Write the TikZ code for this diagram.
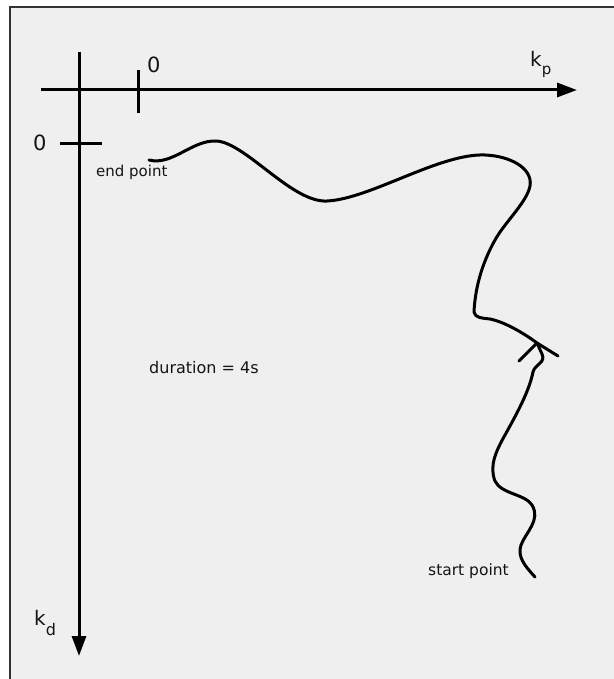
\documentclass[tikz,border=0pt]{standalone}
\usepackage{fontspec}
\setmainfont{DejaVu Sans}
\usetikzlibrary{arrows.meta}
\definecolor{bggray}{HTML}{EFEFEF}
\definecolor{framegray}{HTML}{333333}
\definecolor{txt}{HTML}{141414}
\tikzset{
  axis/.style={line width=3pt, black, -{Triangle[length=20pt,width=14pt]}},
  tick/.style={line width=3pt, black},
  traj/.style={line width=3pt, black, line cap=round, line join=round},
  lbl/.style={inner sep=0pt, text=txt, anchor=base west},
}
\begin{document}
\begin{tikzpicture}[x=1pt,y=-1pt]
\useasboundingbox (0,0) rectangle (613,679);
\fill[white] (0,0) rectangle (613,679);
\filldraw[fill=bggray, draw=framegray, line width=2.8pt] (10,7) rectangle (630,700);
% axes
\coordinate (hstart) at (41,90);
\coordinate (hend) at (577,90);
\coordinate (vstart) at (79,52);
\coordinate (vend) at (79,656);
\draw[axis] (hstart) -- (hend);
\draw[axis] (vstart) -- (vend);
% ticks
\coordinate (t1a) at (138,70);
\coordinate (t1b) at (138,113);
\coordinate (t2a) at (60,144);
\coordinate (t2b) at (102,144);
\draw[tick] (t1a) -- (t1b);
\draw[tick] (t2a) -- (t2b);
% labels
\node[lbl, font=\fontsize{21}{21}\selectfont] (zeroTop) at (147,73) {0};
\node[lbl, font=\fontsize{21}{21}\selectfont] (zeroLeft) at (33,151) {0};
\node[lbl, font=\fontsize{20}{20}\selectfont] (kp) at (530,67) {k\raisebox{-8pt}{\fontsize{15}{15}\selectfont p}};
\node[lbl, font=\fontsize{20}{20}\selectfont] (kd) at (34,625) {k\raisebox{-10pt}{\fontsize{16}{16}\selectfont d}};
\node[lbl, font=\fontsize{15}{15}\selectfont] (endpt) at (96,176.5) {end point};
\node[lbl, font=\fontsize{16}{16}\selectfont] (dur) at (149,373) {duration = 4s};
\node[lbl, font=\fontsize{15.5}{15.5}\selectfont] (startpt) at (428,575) {start point};
% trajectory
\coordinate (endP) at (149,160);
\coordinate (startP) at (535,577);
\coordinate (tip) at (537,343);
\coordinate (armL) at (519,361);
\coordinate (armR) at (558,356);
% upper part (towards end point)
\draw[traj] (endP) .. controls (172,166) and (192,140) .. (216,141)
  .. controls (245,142) and (292,203) .. (327,201)
  .. controls (370,199) and (440,153) .. (485,155)
  .. controls (510,156) and (533,168) .. (530,186)
  .. controls (527,202) and (505,222) .. (495,240)
  .. controls (481,265) and (475,290) .. (474,312)
  .. controls (475,318) and (482,318) .. (490,319)
  .. controls (505,322) and (525,334) .. (tip);
% lower part (from start point)
\draw[traj] (startP) .. controls (525,566) and (517,557) .. (521,545)
  .. controls (526,532) and (541,520) .. (532,505)
  .. controls (525,494) and (501,494) .. (495,481)
  .. controls (489,466) and (496,451) .. (505,435)
  .. controls (516,415) and (529,392) .. (533,372)
  .. controls (535,364) and (546,363) .. (542,354) -- (tip);
% arrowhead
\draw[traj] (armL) -- (tip) -- (armR);
\end{tikzpicture}
\end{document}
